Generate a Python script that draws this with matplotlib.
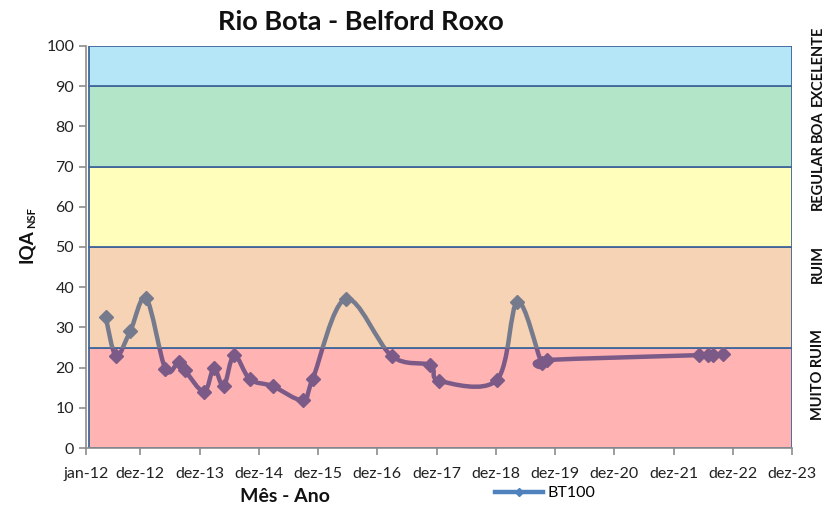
import matplotlib
matplotlib.use("Agg")
import matplotlib.pyplot as plt
from matplotlib.path import Path
from matplotlib.patches import PathPatch, Rectangle
from matplotlib.lines import Line2D

plt.rcParams['font.family'] = ['Lato', 'DejaVu Sans']

# ---- data ----
months = [4.0, 6.1, 9.0, 12.2, 16.1, 18.8, 20.0, 23.9, 25.9, 27.9, 30.0, 33.2, 37.8,
          43.9, 45.9, 52.6, 61.9, 69.7, 71.6, 83.2, 87.4, 92.3, 93.3,
          124.2, 125.9, 127.0, 129.0]
iqa = [32.5, 22.9, 29.2, 37.2, 19.6, 21.5, 19.4, 14.0, 19.8, 15.4, 23.1, 17.1, 15.4,
       11.9, 17.1, 37.1, 22.9, 20.6, 16.7, 16.9, 36.4, 21.1, 21.9,
       23.1, 23.1, 23.1, 23.3]
tick_months = [0, 11, 23, 35, 47, 59, 71, 83, 95, 107, 119, 131, 143]
tick_labels = ['jan-12', 'dez-12', 'dez-13', 'dez-14', 'dez-15', 'dez-16', 'dez-17',
               'dez-18', 'dez-19', 'dez-20', 'dez-21', 'dez-22', 'dez-23']
band_edges = [0, 25, 50, 70, 90, 100]
band_colors = ['#FFB3B3', '#F6D3B4', '#FFFFBB', '#B3E6C8', '#B5E6F8']
class_names = ['MUITO RUIM', 'RUIM', 'REGULAR', 'BOA', 'EXCELENTE']
class_label_y = [18.2, 45.8, 67.4, 80.0, 95.0]

fig = plt.figure(figsize=(8.4, 5.07), dpi=100)
ax = fig.add_axes([86/840, 1-448/507, (792-86)/840, (448-46)/507])
xmin, xmax = 0, 143
ax.set_xlim(xmin, xmax)
ax.set_ylim(0, 100)

# bands
for lo, hi, c in zip(band_edges[:-1], band_edges[1:], band_colors):
    ax.add_patch(Rectangle((0.6, lo), xmax - 0.6, hi - lo, facecolor=c,
                           edgecolor='#41669A', linewidth=1.3, zorder=1))

# smooth curve (Catmull-Rom style Bezier like Excel)
pts = list(zip(months, iqa))
verts = [pts[0]]
codes = [Path.MOVETO]
n = len(pts)
for i in range(n - 1):
    p0 = pts[i - 1] if i > 0 else pts[i]
    p1 = pts[i]
    p2 = pts[i + 1]
    p3 = pts[i + 2] if i + 2 < n else pts[i + 1]
    c1 = (p1[0] + (p2[0] - p0[0]) / 6, p1[1] + (p2[1] - p0[1]) / 6)
    c2 = (p2[0] - (p3[0] - p1[0]) / 6, p2[1] - (p3[1] - p1[1]) / 6)
    verts += [c1, c2, p2]
    codes += [Path.CURVE4] * 3
curve = Path(verts, codes)

for lo, hi, col in [(25, 100, '#767A8D'), (0, 25, '#7B5A88')]:
    clip = Rectangle((xmin, lo), xmax - xmin, hi - lo, transform=ax.transData)
    pp = PathPatch(curve, facecolor='none', edgecolor=col, linewidth=3.2,
                   zorder=3, capstyle='round', joinstyle='round')
    ax.add_patch(pp)
    pp.set_clip_path(clip)
    mk, = ax.plot(months, iqa, linestyle='none', marker='D', markersize=7,
                  color=col, zorder=4)
    mk.set_clip_path(clip)

# axes styling
for s in ['top', 'right']:
    ax.spines[s].set_visible(False)
for s in ['left', 'bottom']:
    ax.spines[s].set_color('#8C8C8C')
    ax.spines[s].set_linewidth(1.2)
ax.set_yticks(range(0, 101, 10))
ax.set_xticks(tick_months)
ax.set_xticklabels(tick_labels)
ax.tick_params(axis='both', colors='#8C8C8C', labelcolor='#222222', labelsize=11.5,
               length=5, width=1.2)
ax.tick_params(axis='x', pad=9)

# right-side class labels
for name, yv in zip(class_names, class_label_y):
    ax.text(1.037, yv, name, transform=ax.get_yaxis_transform(), rotation=90,
            ha='center', va='center', fontsize=10.5, fontweight='bold', color='#111111')

# titles / labels
fig.text(361/840, 1-22/507, 'Rio Bota - Belford Roxo', ha='center', va='center',
         fontsize=19.5, fontweight='bold', color='#111111')
fig.text(27/840, 1-246/507, 'IQA', rotation=90, ha='center', va='center',
         fontsize=13.5, fontweight='bold', color='#111111')
fig.text(32/840, 1-218/507, 'NSF', rotation=90, ha='center', va='center',
         fontsize=8, fontweight='bold', color='#111111')
fig.text(285/840, 1-497/507, 'Mês - Ano', ha='center', va='center',
         fontsize=14, fontweight='bold', color='#111111')

handle = Line2D([], [], color='#4F81BD', linewidth=3.2, marker='D', markersize=4)
fig.legend([handle], ['BT100'], loc='center', bbox_to_anchor=(545/840, 1-493/507),
           frameon=False, fontsize=11.5, handlelength=3.0, handletextpad=0.3)

fig.savefig('out.png', dpi=100)
